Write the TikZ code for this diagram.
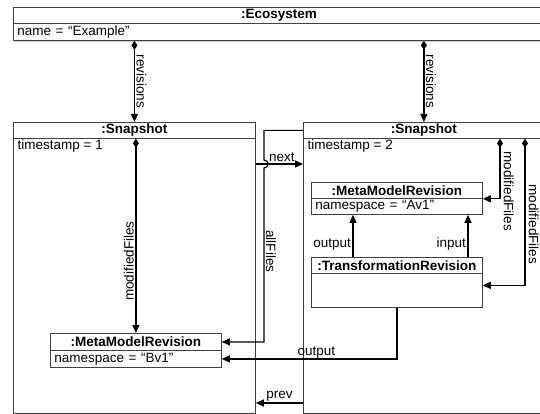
\documentclass[tikz,border=0pt]{standalone}
\usepackage{fontspec}
\setmainfont{Liberation Sans}
\usetikzlibrary{arrows.meta,shadows}
\newcommand{\umlfont}{\fontsize{13.5}{16}\selectfont}
\tikzset{
  box/.style={draw=black!75, line width=0.8pt, fill=white, anchor=north west, inner xsep=4pt, inner ysep=0pt},
  titlebox/.style={box, font=\umlfont\bfseries, align=center},
  attrbox/.style={box, font=\umlfont, align=left},
  lbl/.style={font=\umlfont, inner sep=1.5pt},
  assoc/.style={line width=1.2pt, -{Triangle[length=8pt,width=7pt]}},
  comp/.style={assoc, {Diamond[length=9pt,width=6pt]}-{Triangle[length=8pt,width=7pt]}},
}
\begin{document}
\begin{tikzpicture}[x=1pt, y=-1pt]
  \useasboundingbox (0,0) rectangle (540,414);
  \node[titlebox, text width=523pt, minimum height=16pt] (ecotitle) at (13,7) {:Ecosystem};
  \node[attrbox, text width=523pt, minimum height=17pt,
    drop shadow={shadow xshift=1pt, shadow yshift=-1.2pt, opacity=.4}] (ecoattr) at (13,23) {name = “Example”};
  \node[titlebox, text width=234pt, minimum height=16pt] (snapAtitle) at (13,122) {:Snapshot};
  \node[box, minimum width=242pt, minimum height=275pt] (snapAbody) at (13,138) {};
  \node[lbl, anchor=north west] (tsA) at ([xshift=3pt]snapAbody.north west) {timestamp = 1};
  \node[titlebox, text width=233pt, minimum height=16pt] (snapBtitle) at (303,122) {:Snapshot};
  \node[box, minimum width=241pt, minimum height=275pt] (snapBbody) at (303,138) {};
  \node[lbl, anchor=north west] (tsB) at ([xshift=3pt]snapBbody.north west) {timestamp = 2};
  \node[titlebox, text width=163pt, minimum height=17pt] (mmrBtitle) at (50,333) {:MetaModelRevision};
  \node[attrbox, text width=163pt, minimum height=17pt] (mmrBattr) at (50,350) {namespace = “Bv1”};
  \node[titlebox, text width=163pt, minimum height=16pt] (mmrAtitle) at (311,182) {:MetaModelRevision};
  \node[attrbox, text width=163pt, minimum height=16pt] (mmrAattr) at (311,198) {namespace = “Av1”};
  \node[titlebox, text width=163pt, minimum height=16pt] (trtitle) at (311,257) {:TransformationRevision};
  \node[box, minimum width=171pt, minimum height=34pt] (trbody) at (311,273) {};

  \coordinate (hop) at (264,164);
  \coordinate (prevy) at (0,403);
  \coordinate (outx) at (353,0);
  \coordinate (inx) at (468,0);
  \coordinate (mfAx) at (500,0);
  \coordinate (mfBx) at (525,0);

  \draw[comp] (ecoattr.south -| snapAtitle.north) -- node[lbl, midway, rotate=-90, anchor=south] {revisions} (snapAtitle.north);
  \draw[comp] (ecoattr.south -| snapBtitle.north) -- node[lbl, midway, rotate=-90, anchor=south] {revisions} (snapBtitle.north);
  \draw[comp] (snapAtitle.south -| mmrBtitle.north) -- node[lbl, pos=.63, rotate=90, anchor=south] {modifiedFiles} (mmrBtitle.north);
  \draw[assoc] (snapBtitle.west) -| ([yshift=4pt]hop) arc[start angle=90, end angle=-90, radius=4pt]
    -- node[lbl, pos=.48, rotate=-90, anchor=south] {allFiles} (hop |- mmrBtitle.east) -- (mmrBtitle.east);
  \draw[assoc] (snapAbody.east |- hop) -- node[lbl, pos=.55, above] {next} (snapBbody.west |- hop);
  \draw[assoc] (snapBbody.west |- prevy) -- node[lbl, midway, above] {prev} (snapAbody.east |- prevy);
  \draw[assoc] (trbody.south) |- node[lbl, pos=.73, above, inner sep=0pt] {output} (mmrBattr.east);
  \draw[assoc] (trtitle.north -| outx) -- node[lbl, pos=.1, anchor=south east] {output} (mmrAattr.south -| outx);
  \draw[assoc] (trtitle.north -| inx) -- node[lbl, pos=.1, anchor=south east] {input} (mmrAattr.south -| inx);
  \draw[comp] (snapBtitle.south -| mfAx) |- (mmrAtitle.south east);
  \draw[comp] (snapBtitle.south -| mfBx) |- ([yshift=5pt]trbody.east);
  \node[lbl, rotate=-90, anchor=south west] (mfAlbl) at (502,150) {modifiedFiles};
  \node[lbl, rotate=-90, anchor=south west] (mfBlbl) at (527,183) {modifiedFiles};
\end{tikzpicture}
\end{document}
